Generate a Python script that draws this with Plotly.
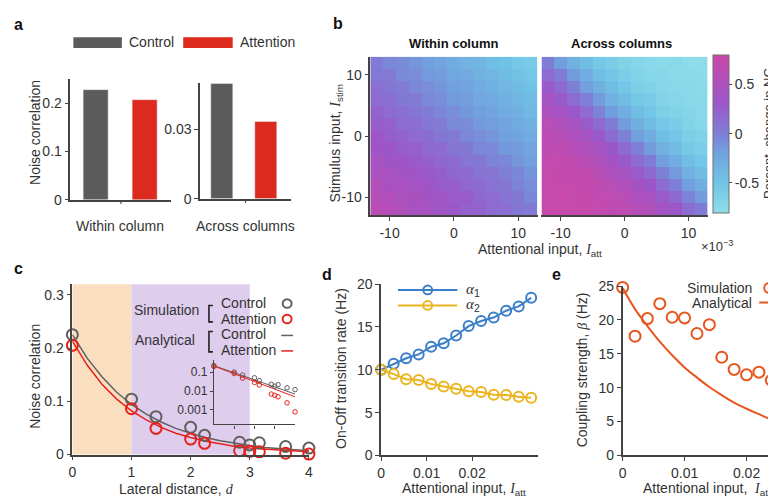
import plotly.graph_objects as go

W, H = 776, 500

# ---- panel a: bar values
groups = ["Control", "Attention"]
within_nc = [0.227, 0.206]
across_nc = [0.0496, 0.0334]

# ---- panel b: heatmaps (rows = stimulus input -12..12, cols = attentional input -12..12, x1e-3)
att_vals = [-12, -10, -8, -6, -4, -2, 0, 2, 4, 6, 8, 10, 12]
stim_vals = [-12, -10, -8, -6, -4, -2, 0, 2, 4, 6, 8, 10, 12]
z_within = [
    [0.63, 0.58, 0.53, 0.45, 0.43, 0.36, 0.33, 0.25, 0.23, 0.15, 0.13, 0.06, 0.03],
    [0.58, 0.55, 0.46, 0.48, 0.39, 0.37, 0.29, 0.28, 0.18, 0.16, 0.09, 0.05, -0.04],
    [0.53, 0.45, 0.44, 0.40, 0.35, 0.29, 0.26, 0.19, 0.15, 0.09, 0.06, -0.02, -0.07],
    [0.46, 0.44, 0.38, 0.36, 0.30, 0.26, 0.19, 0.17, 0.09, 0.08, 0.00, -0.04, -0.12],
    [0.43, 0.36, 0.35, 0.28, 0.25, 0.19, 0.16, 0.08, 0.06, -0.02, -0.04, -0.12, -0.17],
    [0.36, 0.34, 0.26, 0.25, 0.17, 0.16, 0.07, 0.05, -0.04, -0.05, -0.13, -0.15, -0.22],
    [0.33, 0.26, 0.23, 0.16, 0.14, 0.06, 0.04, -0.04, -0.07, -0.12, -0.18, -0.21, -0.27],
    [0.26, 0.24, 0.15, 0.13, 0.05, 0.03, -0.05, -0.06, -0.14, -0.16, -0.22, -0.26, -0.32],
    [0.23, 0.16, 0.13, 0.06, 0.02, -0.04, -0.07, -0.13, -0.17, -0.22, -0.28, -0.31, -0.38],
    [0.15, 0.13, 0.05, 0.03, -0.05, -0.07, -0.14, -0.16, -0.24, -0.26, -0.32, -0.36, -0.42],
    [0.13, 0.06, 0.03, -0.04, -0.07, -0.12, -0.18, -0.22, -0.27, -0.32, -0.37, -0.41, -0.47],
    [0.05, 0.04, -0.05, -0.06, -0.14, -0.16, -0.23, -0.26, -0.33, -0.36, -0.42, -0.47, -0.52],
    [0.03, -0.04, -0.06, -0.12, -0.17, -0.22, -0.27, -0.33, -0.36, -0.43, -0.46, -0.53, -0.57],
]
z_across = [
    [0.79, 0.76, 0.77, 0.74, 0.74, 0.69, 0.67, 0.59, 0.53, 0.41, 0.31, 0.14, 0.02],
    [0.76, 0.78, 0.74, 0.75, 0.71, 0.67, 0.61, 0.51, 0.44, 0.29, 0.17, -0.02, -0.15],
    [0.77, 0.74, 0.76, 0.72, 0.69, 0.61, 0.53, 0.41, 0.31, 0.15, 0.01, -0.17, -0.29],
    [0.74, 0.75, 0.72, 0.70, 0.62, 0.51, 0.43, 0.29, 0.17, -0.01, -0.14, -0.31, -0.41],
    [0.74, 0.71, 0.69, 0.61, 0.53, 0.41, 0.30, 0.15, 0.02, -0.17, -0.29, -0.43, -0.51],
    [0.70, 0.67, 0.60, 0.52, 0.43, 0.31, 0.17, 0.01, -0.15, -0.31, -0.41, -0.53, -0.60],
    [0.65, 0.61, 0.51, 0.41, 0.30, 0.15, -0.01, -0.17, -0.29, -0.43, -0.51, -0.61, -0.65],
    [0.61, 0.52, 0.43, 0.29, 0.17, 0.02, -0.15, -0.30, -0.42, -0.52, -0.59, -0.66, -0.71],
    [0.51, 0.43, 0.31, 0.16, -0.02, -0.16, -0.29, -0.43, -0.51, -0.61, -0.66, -0.69, -0.73],
    [0.43, 0.29, 0.15, 0.01, -0.15, -0.31, -0.41, -0.53, -0.59, -0.67, -0.70, -0.74, -0.75],
    [0.29, 0.17, -0.01, -0.17, -0.30, -0.42, -0.52, -0.61, -0.65, -0.71, -0.73, -0.75, -0.76],
    [0.15, 0.02, -0.15, -0.29, -0.43, -0.51, -0.60, -0.66, -0.71, -0.72, -0.76, -0.76, -0.77],
    [0.01, -0.16, -0.31, -0.41, -0.53, -0.59, -0.67, -0.70, -0.73, -0.76, -0.75, -0.78, -0.78],
]

# ---- panel c: noise correlation vs lateral distance
dist_sim = [0, 1, 1.414, 2, 2.236, 2.828, 3, 3.162, 3.606, 4]
nc_sim_ctrl = [0.225, 0.104, 0.071, 0.051, 0.036, 0.023, 0.018, 0.022, 0.015, 0.012]
nc_sim_att = [0.205, 0.086, 0.049, 0.029, 0.021, 0.007, 0.006, 0.005, 0.0024, 0.0008]
dist_ana = [0, 0.25, 0.5, 0.75, 1, 1.25, 1.5, 1.75, 2, 2.25, 2.5, 2.75, 3, 3.25, 3.5, 3.75, 4]
nc_ana_ctrl = [0.225, 0.181, 0.146, 0.117, 0.094, 0.076, 0.061, 0.049, 0.040, 0.032,
               0.026, 0.021, 0.017, 0.013, 0.011, 0.009, 0.007]
nc_ana_att = [0.213, 0.168, 0.132, 0.104, 0.082, 0.065, 0.051, 0.040, 0.032, 0.025,
              0.020, 0.015, 0.012, 0.010, 0.008, 0.006, 0.005]
shade_from = [0, 1]
shade_to = [1, 3]

# ---- panel d: transition rates
iatt_d = [0, 0.00275, 0.0055, 0.00825, 0.011, 0.01375, 0.0165, 0.01925, 0.022,
          0.02475, 0.0275, 0.03025, 0.033]
alpha1 = [10.0, 10.7, 11.35, 11.8, 12.7, 13.1, 14.0, 15.1, 15.7, 16.1, 16.9, 17.4, 18.4]
alpha2 = [10.0, 9.5, 8.9, 8.8, 8.35, 8.05, 7.8, 7.5, 7.4, 7.1, 7.05, 6.85, 6.75]

# ---- panel e: coupling strength
iatt_e = [0, 0.002, 0.004, 0.006, 0.008, 0.010, 0.012, 0.014, 0.016, 0.018, 0.020, 0.022, 0.024]
beta_sim = [24.8, 17.6, 20.2, 22.4, 20.4, 20.3, 18.0, 19.3, 14.5, 12.7, 11.9, 12.3, 11.1]
iatt_e_ana = [0, 0.002, 0.004, 0.006, 0.008, 0.010, 0.012, 0.014, 0.016, 0.018, 0.020,
              0.022, 0.024, 0.0254]
beta_ana = [24.7, 21.6, 19.1, 16.8, 14.8, 13.0, 11.5, 10.1, 8.9, 7.8, 6.9, 6.1, 5.3, 5.0]

GREY = "#5b5b5b"
RED = "#dd2a1e"
CGREY = "#606060"
CRED = "#e5231b"
BLUE = "#3b7fca"
YELL = "#ebb420"
ORNG = "#e8561f"
AX = "#444444"
TXT = "#333333"
FONT = "Liberation Sans"
SERIF = "Liberation Serif"
FS = 14


def px(x):
    return x / W


def py(y):
    return 1 - y / H


def axis(x0, x1, rng, **kw):
    d = dict(domain=[x0, x1], range=rng, showline=True, linecolor=AX, linewidth=1.5,
             ticks="outside", ticklen=4, tickwidth=1.2, tickcolor=AX, showgrid=False,
             zeroline=False, tickfont=dict(size=FS, color=TXT, family=FONT))
    d.update(kw)
    return d


def mi(s):
    return "<span style='font-family:%s'><i>%s</i></span>" % (SERIF, s)


fig = go.Figure()

# a
fig.add_trace(go.Bar(x=groups, y=within_nc, marker_color=[GREY, RED], width=0.5,
                     xaxis="x", yaxis="y", showlegend=False))
fig.add_trace(go.Bar(x=groups, y=across_nc, marker_color=[GREY, RED], width=0.5,
                     xaxis="x2", yaxis="y2", showlegend=False))

# b
fig.add_trace(go.Heatmap(x=att_vals, y=stim_vals, z=z_within, coloraxis="coloraxis",
                         xaxis="x3", yaxis="y3"))
fig.add_trace(go.Heatmap(x=att_vals, y=stim_vals, z=z_across, coloraxis="coloraxis",
                         xaxis="x4", yaxis="y4"))

# c
fig.add_trace(go.Scatter(x=dist_ana, y=nc_ana_ctrl, mode="lines", line=dict(color=CGREY, width=1.5),
                         xaxis="x5", yaxis="y5", showlegend=False))
fig.add_trace(go.Scatter(x=dist_ana, y=nc_ana_att, mode="lines", line=dict(color=CRED, width=1.5),
                         xaxis="x5", yaxis="y5", showlegend=False))
fig.add_trace(go.Scatter(x=dist_sim, y=nc_sim_ctrl, mode="markers", cliponaxis=False,
                         marker=dict(symbol="circle-open", size=11, color=CGREY, line=dict(width=2)),
                         xaxis="x5", yaxis="y5", showlegend=False))
fig.add_trace(go.Scatter(x=dist_sim, y=nc_sim_att, mode="markers", cliponaxis=False,
                         marker=dict(symbol="circle-open", size=11, color=CRED, line=dict(width=2)),
                         xaxis="x5", yaxis="y5", showlegend=False))
# c inset
fig.add_trace(go.Scatter(x=dist_ana, y=nc_ana_ctrl, mode="lines", line=dict(color=CGREY, width=1),
                         xaxis="x6", yaxis="y6", showlegend=False))
fig.add_trace(go.Scatter(x=dist_ana, y=nc_ana_att, mode="lines", line=dict(color=CRED, width=1),
                         xaxis="x6", yaxis="y6", showlegend=False))
fig.add_trace(go.Scatter(x=dist_sim, y=nc_sim_ctrl, mode="markers", cliponaxis=False,
                         marker=dict(symbol="circle-open", size=4.5, color=CGREY, line=dict(width=1)),
                         xaxis="x6", yaxis="y6", showlegend=False))
fig.add_trace(go.Scatter(x=dist_sim, y=nc_sim_att, mode="markers", cliponaxis=False,
                         marker=dict(symbol="circle-open", size=4.5, color=CRED, line=dict(width=1)),
                         xaxis="x6", yaxis="y6", showlegend=False))

# d
fig.add_trace(go.Scatter(x=iatt_d, y=alpha1, mode="lines+markers", cliponaxis=False,
                         line=dict(color=BLUE, width=2),
                         marker=dict(symbol="circle-open", size=10, color=BLUE, line=dict(width=2)),
                         xaxis="x7", yaxis="y7", showlegend=False))
fig.add_trace(go.Scatter(x=iatt_d, y=alpha2, mode="lines+markers", cliponaxis=False,
                         line=dict(color=YELL, width=2),
                         marker=dict(symbol="circle-open", size=10, color=YELL, line=dict(width=2)),
                         xaxis="x7", yaxis="y7", showlegend=False))

# e
fig.add_trace(go.Scatter(x=iatt_e_ana, y=beta_ana, mode="lines", line=dict(color=ORNG, width=2),
                         line_shape="spline", xaxis="x8", yaxis="y8", showlegend=False))
fig.add_trace(go.Scatter(x=iatt_e, y=beta_sim, mode="markers", cliponaxis=False,
                         marker=dict(symbol="circle-open", size=11, color=ORNG, line=dict(width=2)),
                         xaxis="x8", yaxis="y8", showlegend=False))

cs = [[0.0, "rgb(142,222,233)"], [0.2, "rgb(112,196,229)"], [0.4, "rgb(114,158,221)"],
      [0.5, "rgb(126,127,214)"], [0.7, "rgb(156,86,201)"], [1.0, "rgb(202,72,170)"]]

layout = dict(
    width=W, height=H, margin=dict(l=0, r=0, t=0, b=0),
    paper_bgcolor="white", plot_bgcolor="rgba(0,0,0,0)",
    font=dict(family=FONT, size=FS, color=TXT),
    showlegend=False, bargap=0,
    coloraxis=dict(colorscale=cs, cmin=-0.8, cmax=0.8,
                   colorbar=dict(x=px(708), xanchor="left", y=py(121.5), yanchor="middle",
                                 len=163 / H, lenmode="fraction", thickness=16, xpad=0, ypad=0,
                                 outlinecolor="#6f6f6f", outlinewidth=1,
                                 tickvals=[-0.5, 0, 0.5], ticktext=["-0.5", "0", "0.5"],
                                 ticks="outside", ticklen=3, tickcolor=AX,
                                 tickfont=dict(size=FS, color=TXT, family=FONT),
                                 title=dict(text="Percent  change in NC", side="right",
                                            font=dict(size=13, color=TXT, family=FONT)))),
    xaxis=axis(px(59), px(161), [-0.51, 1.53], anchor="y", ticks="", showticklabels=False),
    yaxis=axis(py(190), py(65), [0, 0.25], anchor="x", tickvals=[0, 0.1, 0.2]),
    xaxis2=axis(px(190), px(282), [-0.506, 1.56], anchor="y2", ticks="", showticklabels=False),
    yaxis2=axis(py(189), py(69), [0, 0.05], anchor="x2", tickvals=[0, 0.03], ticktext=["0", "0.03"]),
    xaxis3=axis(px(362), px(531), [-13, 13], anchor="y3", tickvals=[-10, 0, 10],
                ticktext=["-10", "0", "10"]),
    yaxis3=axis(py(206), py(42), [-13, 13], anchor="x3", tickvals=[-10, 0, 10],
                ticktext=["-10", "0", "10"]),
    xaxis4=axis(px(535), px(703), [-13, 13], anchor="y4", tickvals=[-10, 0, 10],
                ticktext=["-10", "0", "10"]),
    yaxis4=axis(py(206), py(42), [-13, 13], anchor="x4", showline=False, ticks="",
                showticklabels=False),
    xaxis5=axis(px(61), px(300), [0, 4.0], anchor="y5", tickvals=[0, 1, 2, 3, 4]),
    yaxis5=axis(py(453), py(277), [0, 0.32], anchor="x5", tickvals=[0, 0.1, 0.2, 0.3]),
    xaxis6=axis(px(204), px(286), [0, 4.0], anchor="y6", tickvals=[1, 2, 3],
                showticklabels=False, ticklen=3, linewidth=1.2),
    yaxis6=axis(py(422), py(355), [-3.77, -0.33], type="log", anchor="x6", ticklen=3,
                linewidth=1.2, tickvals=[0.001, 0.01, 0.1], ticktext=["0.001", "0.01", "0.1"],
                tickfont=dict(size=12, color=TXT, family=FONT)),
    xaxis7=axis(px(373), px(531), [0, 0.0344], anchor="y7", tickvals=[0, 0.01, 0.02]),
    yaxis7=axis(py(454), py(277), [0, 20], anchor="x7", tickvals=[0, 5, 10, 15, 20]),
    xaxis8=axis(px(617), px(776), [0, 0.0254], anchor="y8", tickvals=[0, 0.01, 0.02]),
    yaxis8=axis(py(454), py(279), [0, 25], anchor="x8", tickvals=[0, 5, 10, 15, 20, 25]),
)
fig.update_layout(**layout)

ann = []


def txt(x, y, s, size=FS, xanchor="center", angle=0, bold=False):
    if bold:
        s = "<b>%s</b>" % s
    ann.append(dict(x=px(x), y=py(y), xref="paper", yref="paper", text=s, showarrow=False,
                    xanchor=xanchor, yanchor="middle", textangle=angle,
                    font=dict(size=size, color=TXT if not bold else "#111", family=FONT)))


# panel letters
txt(7, 9, "a", 16, bold=True)
txt(329, 8, "b", 16, bold=True)
txt(7, 261, "c", 16, bold=True)
txt(318, 267, "d", 16, bold=True)
txt(550, 267, "e", 16, bold=True)

# a
txt(116, 27, "Control", xanchor="left")
txt(228, 27, "Attention", xanchor="left")
txt(23, 120, "Noise correlation", angle=-90)
txt(109, 217, "Within column")
txt(236, 217, "Across columns")

# b
txt(446, 28, "Within column", 13, bold=True)
txt(616, 28, "Across columns", 13, bold=True)
txt(327, 132, "Stimulus input, " + mi("I") + "<sub>stim</sub>", angle=-90)
txt(534, 242, "Attentional input, " + mi("I") + "<sub>att</sub>")
txt(712, 238, "×10<sup>−3</sup>", 13)

# c
txt(23, 372, "Noise correlation", angle=-90)
txt(166, 489, "Lateral distance, " + mi("d"))
txt(156, 304, "Simulation")
txt(155, 335, "Analytical")
txt(209, 297, "Control", xanchor="left")
txt(209, 313, "Attention", xanchor="left")
txt(209, 329, "Control", xanchor="left")
txt(209, 345, "Attention", xanchor="left")

# d
txt(333, 364, "On-Off transition rate (Hz)", angle=-90)
txt(457, 489, "Attentional input, " + mi("I") + "<sub>att</sub>")
txt(457, 283, mi("α") + "<sub>1</sub>", 15, xanchor="left")
txt(457, 299, mi("α") + "<sub>2</sub>", 15, xanchor="left")

# e
txt(576, 366, "Coupling strength, " + mi("β") + " (Hz)", angle=-90)
txt(702, 489, "Attentional input,  " + mi("I") + "<sub>att</sub>")
txt(750, 281, "Simulation", xanchor="right")
txt(750, 296, "Analytical", xanchor="right")

fig.update_layout(annotations=ann)

shapes = []


def rect(x0, y0, x1, y1, color):
    shapes.append(dict(type="rect", xref="paper", yref="paper", x0=px(x0), x1=px(x1),
                       y0=py(y1), y1=py(y0), fillcolor=color, line=dict(width=0)))


def hline(x0, x1, y, color, w=1.5):
    shapes.append(dict(type="line", xref="paper", yref="paper", x0=px(x0), x1=px(x1),
                       y0=py(y), y1=py(y), line=dict(color=color, width=w)))


def circ(cx, cy, r, color):
    shapes.append(dict(type="circle", xref="paper", yref="paper", x0=px(cx - r), x1=px(cx + r),
                       y0=py(cy + r), y1=py(cy - r), line=dict(color=color, width=2)))


def bracket(x, y0, y1):
    shapes.append(dict(type="path", xref="paper", yref="paper",
                       path="M %f,%f L %f,%f L %f,%f L %f,%f" % (
                           px(x + 4), py(y0), px(x), py(y0), px(x), py(y1), px(x + 4), py(y1)),
                       line=dict(color="#222", width=1.6)))


# shaded distance ranges in c
for a0, a1, col in zip(shade_from, shade_to, ["#f9dfc0", "#dfcdee"]):
    shapes.append(dict(type="rect", xref="x5", yref="y5 domain", x0=a0, x1=a1, y0=0, y1=1,
                       fillcolor=col, line=dict(width=0), layer="below"))

# a legend
rect(62, 22, 111, 33, GREY)
rect(173, 22, 223, 33, RED)
# a centre ticks
shapes.append(dict(type="line", xref="paper", yref="paper", x0=px(110), x1=px(110),
                   y0=py(190), y1=py(194), line=dict(color=AX, width=1.2)))
shapes.append(dict(type="line", xref="paper", yref="paper", x0=px(236), x1=px(236),
                   y0=py(189), y1=py(193), line=dict(color=AX, width=1.2)))

# c legend
bracket(199, 299, 316)
bracket(199, 326, 347)
circ(278, 297, 4.5, CGREY)
circ(278, 313, 4.5, CRED)
hline(272, 284, 330, CGREY)
hline(272, 284, 346, CRED)

# d legend
hline(390, 450, 283, BLUE, 2)
hline(390, 450, 299, YELL, 2)
circ(420, 283, 4.5, BLUE)
circ(420, 299, 4.5, YELL)

# e legend
circ(765, 281, 5, ORNG)
hline(755, 776, 296, ORNG, 2)

fig.update_layout(shapes=shapes)

fig.write_html("out.html")
